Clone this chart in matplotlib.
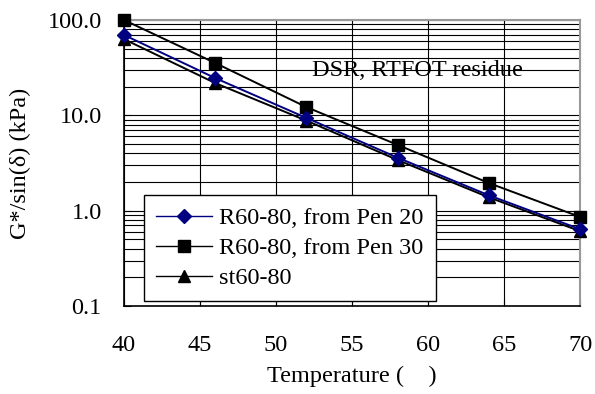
import matplotlib
matplotlib.use("Agg")
import matplotlib.pyplot as plt
from matplotlib.ticker import FixedLocator, LogLocator, NullFormatter

plt.rcParams['font.family'] = ['Liberation Serif', 'DejaVu Serif']

# data
temps = [40, 46, 52, 58, 64, 70]
pen20 = [69.7, 24.6, 9.4, 3.6, 1.45, 0.64]
pen30 = [100.0, 35.4, 12.2, 4.9, 1.95, 0.86]
st6080 = [63.0, 21.8, 8.8, 3.4, 1.38, 0.61]
labels = ["R60-80, from Pen 20", "R60-80, from Pen 30", "st60-80"]

W, H = 595, 394
fs = 17.5

fig = plt.figure(figsize=(W / 100, H / 100), dpi=100)
ax = fig.add_axes([124 / W, 1 - 306 / H, (580 - 124) / W, (306 - 20) / H])

ax.plot(temps, pen20, color="#000080", marker="D", markersize=7, lw=1.4,
        markerfacecolor="#000080", markeredgecolor="#000080", label=labels[0],
        zorder=4, clip_on=False)
ax.plot(temps, pen30, color="black", marker="s", markersize=9, lw=1.4,
        label=labels[1], zorder=3, clip_on=False)
ax.plot(temps, st6080, color="black", marker="^", markersize=9, lw=1.4,
        label=labels[2], zorder=3, clip_on=False)

ax.set_yscale("log")
ax.set_xlim(40, 70)
ax.set_ylim(0.1, 100)
ax.set_xticks([40, 45, 50, 55, 60, 65, 70])
ax.yaxis.set_major_locator(FixedLocator([0.1, 1, 10, 100]))
ax.set_yticklabels(["0.1", "1.0", "10.0", "100.0"])
ax.yaxis.set_minor_locator(LogLocator(base=10, subs=range(2, 10)))
ax.yaxis.set_minor_formatter(NullFormatter())

ax.grid(True, which="major", axis="both", color="black", lw=0.8)
ax.grid(True, which="minor", axis="y", color="black", lw=0.8)
ax.set_axisbelow(True)

ax.tick_params(axis="x", direction="in", length=5, pad=21, labelsize=fs)
ax.tick_params(axis="y", which="major", direction="in", length=5, pad=16, labelsize=fs)
ax.tick_params(axis="y", which="minor", length=0)

for s in ["top", "right"]:
    ax.spines[s].set_color("#999999")
    ax.spines[s].set_linewidth(1.5)
ax.spines["left"].set_linewidth(1.2)
ax.spines["bottom"].set_linewidth(1.2)

ax.set_xlabel("Temperature (    )", fontsize=fs, labelpad=7)
ax.set_ylabel("G*/sin(δ) (kPa)", fontsize=fs, labelpad=12)

ax.text(312 / W, 1 - 70 / H, "DSR, RTFOT residue", transform=fig.transFigure,
        fontsize=fs, va="center", ha="left")

leg = ax.legend(loc="upper left", bbox_to_anchor=(144 / W, 1 - 195 / H),
                bbox_transform=fig.transFigure, fontsize=fs,
                frameon=True, fancybox=False, edgecolor="black", framealpha=1,
                borderpad=0.5, labelspacing=0.33, handlelength=2.3,
                handletextpad=0.3, borderaxespad=0)
leg.get_frame().set_linewidth(1.0)
for h in leg.get_lines():
    h.set_linewidth(1.0)

fig.savefig("out.png", dpi=100)
